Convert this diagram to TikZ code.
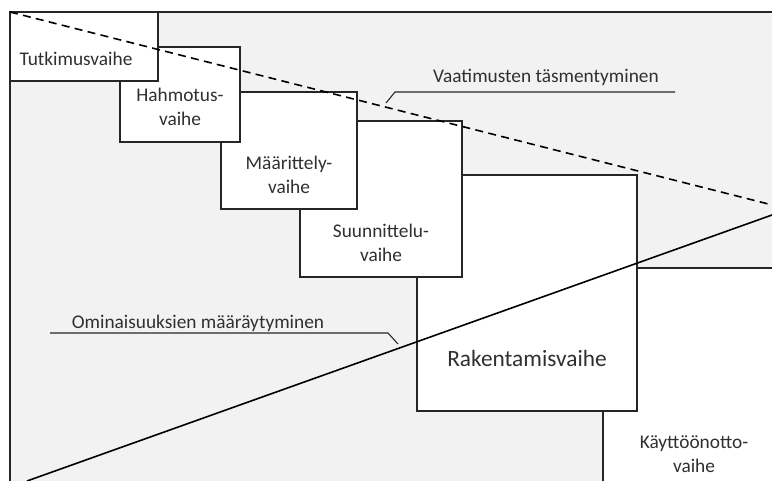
\documentclass[tikz,border=0pt]{standalone}
\usepackage{fontspec}
\setmainfont{Carlito}
\usetikzlibrary{fit}
\definecolor{bgray}{HTML}{F2F2F2}
\definecolor{edge}{HTML}{262626}
\definecolor{txt}{HTML}{303030}
\tikzset{
  phase/.style={draw=edge, fill=white, line width=0.9pt, inner sep=0pt},
  lbl/.style={text=txt, font=\fontsize{14.5}{18}\selectfont, align=center, inner sep=0pt, anchor=base},
  biglbl/.style={text=txt, font=\fontsize{17.5}{21}\selectfont, inner sep=0pt, anchor=base},
  trend/.style={line width=1.2pt, black},
  leader/.style={line width=0.8pt, draw=edge},
}
\begin{document}
\begin{tikzpicture}[x=0.75pt, y=-0.75pt]
\useasboundingbox (0,0) rectangle (772,481);
\begin{scope}
\clip (0,0) rectangle (772,481);
\fill[bgray] (10,12) rectangle (800,500);
\draw[line width=0.9pt, draw=edge] (10,500) -- (10,12) -- (800,12);
% phase boxes, back to front
\node[phase, fit={(603,268) (800,500)}] (kay) {};
\node[phase, fit={(417,175) (637,411)}] (rak) {};
\node[phase, fit={(300,121) (462,277)}] (suu) {};
\node[phase, fit={(221,92) (357,209)}] (maa) {};
\node[phase, fit={(120,47) (240,142)}] (hah) {};
\node[phase, fit={(10,12) (158,81)}] (tut) {};
\end{scope}
% texts
\node[lbl] (tuttxt) at (76,66) {Tutkimusvaihe};
\node[lbl] (hahtxt1) at (180,102) {Hahmotus-};
\node[lbl] (hahtxt2) at (180,126) {vaihe};
\node[lbl] (maatxt1) at (289,170) {Määrittely-};
\node[lbl] (maatxt2) at (289,194) {vaihe};
\node[lbl] (suutxt1) at (381,238) {Suunnittelu-};
\node[lbl] (suutxt2) at (381,262) {vaihe};
\node[biglbl] (raktxt) at (527,366) {Rakentamisvaihe};
\node[lbl] (kaytxt1) at (694,448) {Käyttöönotto-};
\node[lbl] (kaytxt2) at (694,472) {vaihe};
% trend lines
\begin{scope}
\clip (0,0) rectangle (772,481);
\coordinate (dA) at (10,12);
\coordinate (dB) at (800,212);
\coordinate (sA) at (27,481);
\coordinate (sB) at (800,205);
\draw[trend, dash pattern=on 6pt off 4pt] (dA) -- (dB);
\draw[trend] (sA) -- (sB);
\end{scope}
% leaders and labels
\node[lbl] (vaat) at (546,83) {Vaatimusten täsmentyminen};
\coordinate (v1) at (675,92);
\coordinate (v2) at (395,92);
\coordinate (v3) at (386,103);
\draw[leader] (v1) -- (v2) -- (v3);
\node[lbl] (omin) at (198,329) {Ominaisuuksien määräytyminen};
\coordinate (o1) at (50,333);
\coordinate (o2) at (388,333);
\coordinate (o3) at (398,344);
\draw[leader] (o1) -- (o2) -- (o3);
\end{tikzpicture}
\end{document}
